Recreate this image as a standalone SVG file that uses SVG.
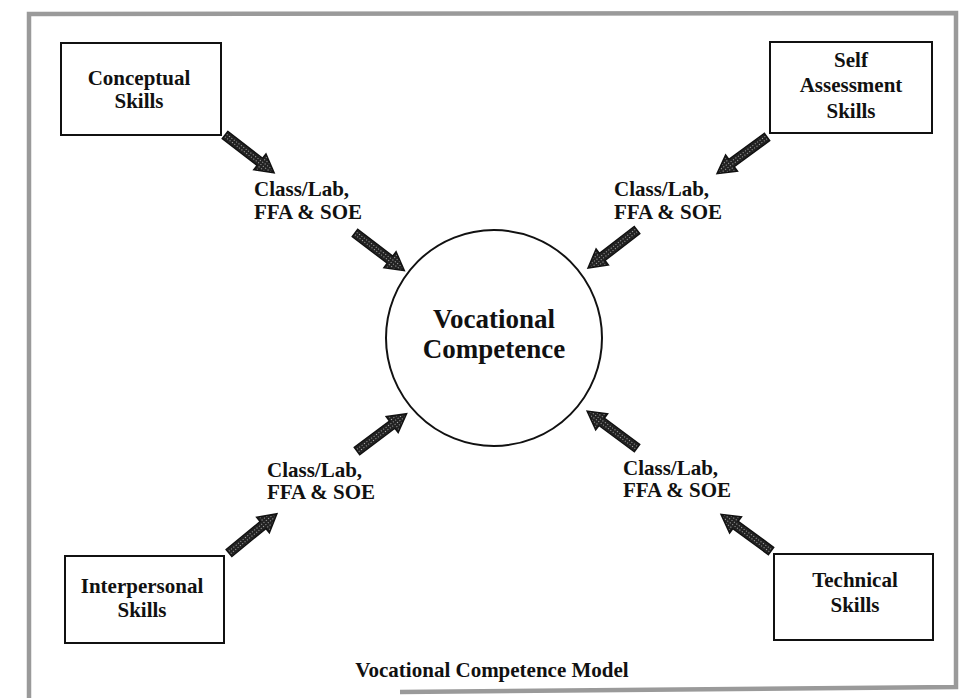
<svg xmlns="http://www.w3.org/2000/svg" xmlns:xlink="http://www.w3.org/1999/xlink" width="961" height="698" viewBox="0 0 961 698">
<style>
.box{fill:#fff;stroke:#111;stroke-width:2}
.t{font-family:"Liberation Serif","Times New Roman",serif;font-weight:bold;fill:#111;text-anchor:middle}
.s{font-size:21px}
.lab{font-family:"Liberation Serif","Times New Roman",serif;font-weight:bold;fill:#111;font-size:21px}
.big{font-size:27px}
.cap{font-size:21px}
.arrow{fill:url(#hatch);stroke:#111;stroke-width:1.5;stroke-linejoin:miter}
.frame{fill:none;stroke:#9a9a9a;stroke-width:4.5}
</style>
<defs>
<pattern id="hatch" width="3" height="3" patternUnits="userSpaceOnUse">
<rect width="3" height="3" fill="#222"/>
<rect x="1" y="1" width="1" height="1" fill="#aaa"/>
</pattern>
<path id="arr" d="M0,-4.5 L44,-4.5 L44,-10 L62,0 L44,10 L44,4.5 L0,4.5 Z"/>
</defs>
<rect width="961" height="698" fill="#fff"/>
<path class="frame" d="M29,700 L29,14 L956,13 L956,687 L400,692"/>

<g id="connectors">
<use xlink:href="#arr" class="arrow" transform="translate(225,135) rotate(37.6)"/>
<use xlink:href="#arr" class="arrow" transform="translate(355,233) rotate(37.3)"/>
<use xlink:href="#arr" class="arrow" transform="translate(767,137) rotate(143.7)"/>
<use xlink:href="#arr" class="arrow" transform="translate(637,230) rotate(142.2)"/>
<use xlink:href="#arr" class="arrow" transform="translate(229,553) rotate(-39.4)"/>
<use xlink:href="#arr" class="arrow" transform="translate(357,451) rotate(-36.9)"/>
<use xlink:href="#arr" class="arrow" transform="translate(771,551) rotate(-143.7)"/>
<use xlink:href="#arr" class="arrow" transform="translate(637,448) rotate(-143.5)"/>
</g>

<g id="conceptual">
<rect class="box" x="61" y="43" width="160" height="92"/>
<text class="t s" x="139" y="85">Conceptual</text>
<text class="t s" x="139" y="108">Skills</text>
</g>

<g id="self-assessment">
<rect class="box" x="770" y="42" width="162" height="91"/>
<text class="t s" x="851" y="67">Self</text>
<text class="t s" x="851" y="92">Assessment</text>
<text class="t s" x="851" y="118">Skills</text>
</g>

<g id="interpersonal">
<rect class="box" x="65" y="556" width="159" height="87"/>
<text class="t s" x="142" y="593">Interpersonal</text>
<text class="t s" x="142" y="617">Skills</text>
</g>

<g id="technical">
<rect class="box" x="774" y="554" width="159" height="86"/>
<text class="t s" x="855" y="587">Technical</text>
<text class="t s" x="855" y="612">Skills</text>
</g>

<g id="vocational-competence">
<circle cx="494" cy="338" r="108" fill="#fff" stroke="#111" stroke-width="2"/>
<text class="t big" x="494" y="328">Vocational</text>
<text class="t big" x="494" y="358">Competence</text>
</g>

<g id="label-tl">
<text class="lab" x="254" y="196">Class/Lab,</text>
<text class="lab" x="254" y="219">FFA &amp; SOE</text>
</g>
<g id="label-tr">
<text class="lab" x="614" y="196">Class/Lab,</text>
<text class="lab" x="614" y="219">FFA &amp; SOE</text>
</g>
<g id="label-bl">
<text class="lab" x="267" y="477">Class/Lab,</text>
<text class="lab" x="267" y="499">FFA &amp; SOE</text>
</g>
<g id="label-br">
<text class="lab" x="623" y="475">Class/Lab,</text>
<text class="lab" x="623" y="497">FFA &amp; SOE</text>
</g>

<g id="caption">
<text class="t cap" x="492" y="677">Vocational Competence Model</text>
</g>
</svg>
